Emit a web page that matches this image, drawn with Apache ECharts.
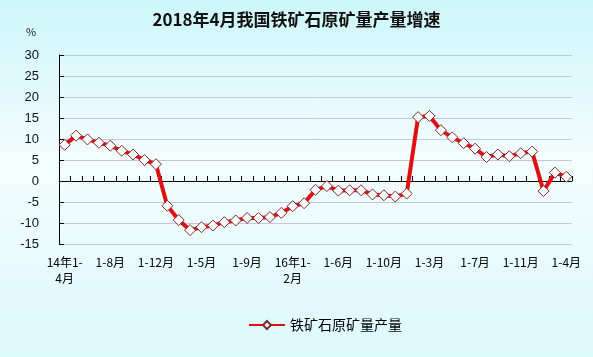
<!DOCTYPE html>
<html><head><meta charset="utf-8">
<script src="https://cdn.jsdelivr.net/npm/echarts@6/dist/echarts.min.js"></script>
<style>html,body{margin:0;padding:0;}#c{width:593px;height:357px;}</style>
</head><body><div id="c"></div>
<script>
const titleText = "2018年4月我国铁矿石原矿量产量增速";
const seriesName = "铁矿石原矿量产量";
const categories = [
 "14年1-\n4月","1-5月","1-6月","1-7月","1-8月","1-9月","1-10月","1-11月","1-12月",
 "15年1-2月","1-3月","1-4月","1-5月","1-6月","1-7月","1-8月","1-9月","1-10月","1-11月","1-12月",
 "16年1-\n2月","1-3月","1-4月","1-5月","1-6月","1-7月","1-8月","1-9月","1-10月","1-11月","1-12月",
 "17年1-2月","1-3月","1-4月","1-5月","1-6月","1-7月","1-8月","1-9月","1-10月","1-11月","1-12月",
 "18年1-2月","1-3月","1-4月"
];
const growth = [
 8.6, 10.8, 9.9, 9.1, 8.4, 7.2, 6.3, 5.0, 4.0,
 -5.9, -9.3, -11.7, -11.0, -10.6, -9.8, -9.4, -8.8, -8.8, -8.6, -7.6,
 -6.0, -5.3, -2.1, -1.2, -2.3, -2.2, -2.2, -3.2, -3.4, -3.7, -3.0,
 15.2, 15.5, 12.1, 10.4, 9.0, 7.7, 5.7, 6.3, 5.9, 6.6, 7.0,
 -2.4, 2.0, 1.0
];
const yMin = -15, yMax = 30, yStep = 5;
const font = "'Noto Sans CJK SC', sans-serif";

const chart = echarts.init(document.getElementById('c'));
chart.setOption({
  animation: false,
  backgroundColor: {type:'linear', x:0, y:0, x2:0, y2:1, colorStops:[
    {offset:0, color:'#cdf6fa'}, {offset:0.45, color:'#f4fdfe'}, {offset:1, color:'#dcf9fc'}]},
  title: {text: titleText, left: 'center', top: 6,
    textStyle: {fontSize: 17, fontWeight: 'bold', color: '#111', fontFamily: font}},
  graphic: [{type:'text', left: 26, top: 26, style:{text:'%', fontSize: 11, fill:'#222', fontFamily: font}}],
  legend: {bottom: 20, left: 243, itemWidth: 36, itemHeight: 10, itemGap: 4,
    data: [seriesName],
    textStyle: {fontSize: 14, color:'#000', fontFamily: font}},
  grid: {left: 59, right: 21, top: 55, bottom: 113},
  xAxis: [{
    type: 'category', data: categories, boundaryGap: true,
    axisLine: {onZero: true, lineStyle: {color:'#000', width: 1}},
    axisTick: {show: true, inside: true, length: 5, interval: 0, lineStyle:{color:'#000'}},
    axisLabel: {show: false}, splitLine: {show: false}
  },{
    type: 'category', data: categories, boundaryGap: true, position: 'bottom',
    axisLine: {show: false}, axisTick: {show: false},
    axisLabel: {show: true, interval: 3, margin: 10, fontSize: 12, color:'#000', fontFamily: font, lineHeight: 16},
    splitLine: {show: false}
  }],
  yAxis: {
    type: 'value', min: yMin, max: yMax, interval: yStep,
    axisLine: {show: true, lineStyle: {color:'#000'}},
    axisTick: {show: true, inside: true, length: 5, lineStyle:{color:'#000'}},
    axisLabel: {fontSize: 13, color:'#111', margin: 20, fontFamily: "'Liberation Sans', Arial, sans-serif"},
    splitLine: {show: true, lineStyle: {color:'#c4c6dc', width: 1}}
  },
  series: [{
    name: seriesName, type: 'line', xAxisIndex: 0, data: growth,
    showAllSymbol: true,
    symbol: 'diamond', symbolSize: 11,
    lineStyle: {color:'#e01010', width: 4},
    itemStyle: {color:'#ffffff', borderColor:'#7a2a2a', borderWidth: 1},
    emphasis: {disabled: true}
  }]
});
</script></body></html>
